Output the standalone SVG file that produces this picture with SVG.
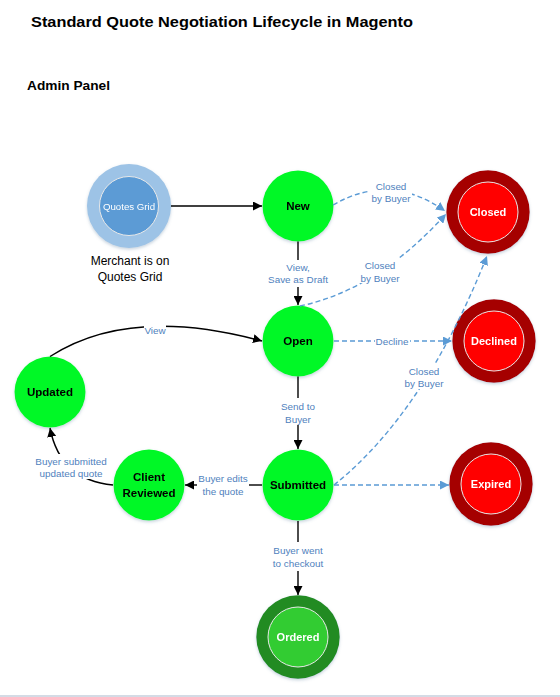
<svg xmlns="http://www.w3.org/2000/svg" width="560" height="697" viewBox="0 0 560 697">
<style>
  text { font-family: "Liberation Sans", Arial, sans-serif; }
  .title { font-size: 15.5px; font-weight: bold; fill: #000; }
  .sub { font-size: 13.5px; font-weight: bold; fill: #000; }
  .lbl { font-size: 9.9px; fill: #4F81BD; text-anchor: middle; }
  .node-g { fill: #05F826; }
  .ntext { font-size: 11.5px; font-weight: bold; fill: #000; text-anchor: middle; }
  .wtext { font-size: 11px; font-weight: bold; fill: #fff; text-anchor: middle; }
  .solid { fill: none; stroke: #000; stroke-width: 1.4; }
  .dash { fill: none; stroke: #5B9BD5; stroke-width: 1.4; stroke-dasharray: 5 3; }
  .inner { stroke: #E8E8E8; stroke-width: 1; }
</style>
<defs>
  <marker id="ab" viewBox="0 0 10 10" refX="10" refY="5" markerWidth="9" markerHeight="9" markerUnits="userSpaceOnUse" orient="auto">
    <path d="M0,0 L10,5 L0,10 z" fill="#000"/>
  </marker>
  <marker id="au" viewBox="0 0 10 10" refX="10" refY="5" markerWidth="9" markerHeight="9" markerUnits="userSpaceOnUse" orient="auto">
    <path d="M0,0 L10,5 L0,10 z" fill="#5B9BD5"/>
  </marker>
  <filter id="sh" x="-20%" y="-20%" width="140%" height="150%">
    <feDropShadow dx="0" dy="1.5" stdDeviation="1.5" flood-color="#6080a0" flood-opacity="0.35"/>
  </filter>
</defs>

<rect x="0" y="0" width="560" height="697" fill="#fff"/>
<line x1="0" y1="696" x2="560" y2="696" stroke="#A9B8CC" stroke-width="1.2"/>

<text class="title" x="31" y="27" textLength="382" lengthAdjust="spacingAndGlyphs">Standard Quote Negotiation Lifecycle in Magento</text>
<text class="sub" x="27" y="90" textLength="83" lengthAdjust="spacingAndGlyphs">Admin Panel</text>

<g id="node-quotes-grid" filter="url(#sh)">
  <circle cx="129" cy="206" r="42" fill="#9DC3E6"/>
  <circle cx="129" cy="206" r="29.5" fill="#5B9BD5" class="inner"/>
  <text x="129" y="209.5" style="font-size:9.7px;fill:#fff;text-anchor:middle">Quotes Grid</text>
</g>
<g id="label-merchant">
  <text x="130" y="265" style="font-size:12px;fill:#000;text-anchor:middle">Merchant is on</text>
  <text x="130" y="281" style="font-size:12px;fill:#000;text-anchor:middle">Quotes Grid</text>
</g>

<g id="node-new" filter="url(#sh)">
  <circle cx="298" cy="206" r="35.5" class="node-g"/>
  <text class="ntext" x="298" y="210">New</text>
</g>
<g id="node-open" filter="url(#sh)">
  <circle cx="298" cy="341" r="35.5" class="node-g"/>
  <text class="ntext" x="298" y="345">Open</text>
</g>
<g id="node-submitted" filter="url(#sh)">
  <circle cx="298" cy="485" r="35.5" class="node-g"/>
  <text class="ntext" x="298" y="489">Submitted</text>
</g>
<g id="node-updated" filter="url(#sh)">
  <circle cx="50" cy="392" r="35.5" class="node-g"/>
  <text class="ntext" x="50" y="396">Updated</text>
</g>
<g id="node-client-reviewed" filter="url(#sh)">
  <circle cx="149" cy="485" r="35.5" class="node-g"/>
  <text class="ntext" x="149" y="481">Client</text>
  <text class="ntext" x="149" y="497">Reviewed</text>
</g>

<g id="node-closed" filter="url(#sh)">
  <circle cx="488" cy="212" r="41.7" fill="#A50000"/>
  <circle cx="488" cy="212" r="30" fill="#FF0000" class="inner"/>
  <text class="wtext" x="488" y="216">Closed</text>
</g>
<g id="node-declined" filter="url(#sh)">
  <circle cx="494" cy="341" r="41.7" fill="#A50000"/>
  <circle cx="494" cy="341" r="30" fill="#FF0000" class="inner"/>
  <text class="wtext" x="494" y="345">Declined</text>
</g>
<g id="node-expired" filter="url(#sh)">
  <circle cx="491" cy="484" r="41.7" fill="#A50000"/>
  <circle cx="491" cy="484" r="30" fill="#FF0000" class="inner"/>
  <text class="wtext" x="491" y="488">Expired</text>
</g>
<g id="node-ordered" filter="url(#sh)">
  <circle cx="298" cy="637" r="41.7" fill="#228B22"/>
  <circle cx="298" cy="637" r="30" fill="#33CC33" class="inner"/>
  <text class="wtext" x="298" y="641">Ordered</text>
</g>

<g id="connectors">
  <!-- Quotes Grid -> New -->
  <line class="solid" x1="171" y1="206" x2="262" y2="206" marker-end="url(#ab)"/>
  <!-- New -> Open -->
  <line class="solid" x1="298" y1="241.5" x2="298" y2="260"/>
  <line class="solid" x1="298" y1="287" x2="298" y2="305" marker-end="url(#ab)"/>
  <text class="lbl" x="298" y="271">View,</text>
  <text class="lbl" x="298" y="283">Save as Draft</text>
  <!-- New -> Closed -->
  <path class="dash" d="M333,205 Q390,172 445,211" marker-end="url(#au)"/>
  <rect x="370" y="180" width="42" height="24" fill="#fff"/>
  <text class="lbl" x="391" y="190">Closed</text>
  <text class="lbl" x="391" y="202">by Buyer</text>
  <!-- Open -> Closed -->
  <path class="dash" d="M300,306 Q377,290 446,214" marker-end="url(#au)"/>
  <rect x="358" y="258" width="42" height="25" fill="#fff"/>
  <text class="lbl" x="380" y="269">Closed</text>
  <text class="lbl" x="380" y="282">by Buyer</text>
  <!-- Open -> Declined -->
  <line class="dash" x1="334" y1="341" x2="452" y2="341" marker-end="url(#au)"/>
  <rect x="375" y="335" width="35" height="12" fill="#fff"/>
  <text class="lbl" x="392" y="344.5">Decline</text>
  <!-- Submitted -> Closed -->
  <path class="dash" d="M334,485 Q425,412 487,256" marker-end="url(#au)"/>
  <rect x="401" y="364" width="46" height="25" fill="#fff"/>
  <text class="lbl" x="424" y="375">Closed</text>
  <text class="lbl" x="424" y="387">by Buyer</text>
  <!-- Submitted -> Expired -->
  <line class="dash" x1="334" y1="485" x2="449" y2="485" marker-end="url(#au)"/>
  <!-- Open -> Submitted -->
  <line class="solid" x1="298" y1="376.5" x2="298" y2="398"/>
  <line class="solid" x1="298" y1="425" x2="298" y2="449" marker-end="url(#ab)"/>
  <text class="lbl" x="298" y="410">Send to</text>
  <text class="lbl" x="298" y="423">Buyer</text>
  <!-- Submitted -> Client Reviewed -->
  <line class="solid" x1="262" y1="485" x2="249" y2="485"/>
  <line class="solid" x1="197" y1="485" x2="185" y2="485" marker-end="url(#ab)"/>
  <text class="lbl" x="223" y="482">Buyer edits</text>
  <text class="lbl" x="223" y="495">the quote</text>
  <!-- Client Reviewed -> Updated -->
  <path class="solid" d="M113,485 Q60,480 50,428" marker-end="url(#ab)"/>
  <rect x="31" y="454" width="80" height="25" fill="#fff"/>
  <text class="lbl" x="71" y="465">Buyer submitted</text>
  <text class="lbl" x="71" y="477">updated quote</text>
  <!-- Updated -> Open -->
  <path class="solid" d="M50,356.5 Q130,305 262,341" marker-end="url(#ab)"/>
  <rect x="144" y="325" width="22" height="11" fill="#fff"/>
  <text class="lbl" x="155" y="334">View</text>
  <!-- Submitted -> Ordered -->
  <line class="solid" x1="298" y1="521" x2="298" y2="542"/>
  <line class="solid" x1="298" y1="571" x2="298" y2="595" marker-end="url(#ab)"/>
  <text class="lbl" x="298" y="554">Buyer went</text>
  <text class="lbl" x="298" y="567">to checkout</text>
</g>
</svg>
